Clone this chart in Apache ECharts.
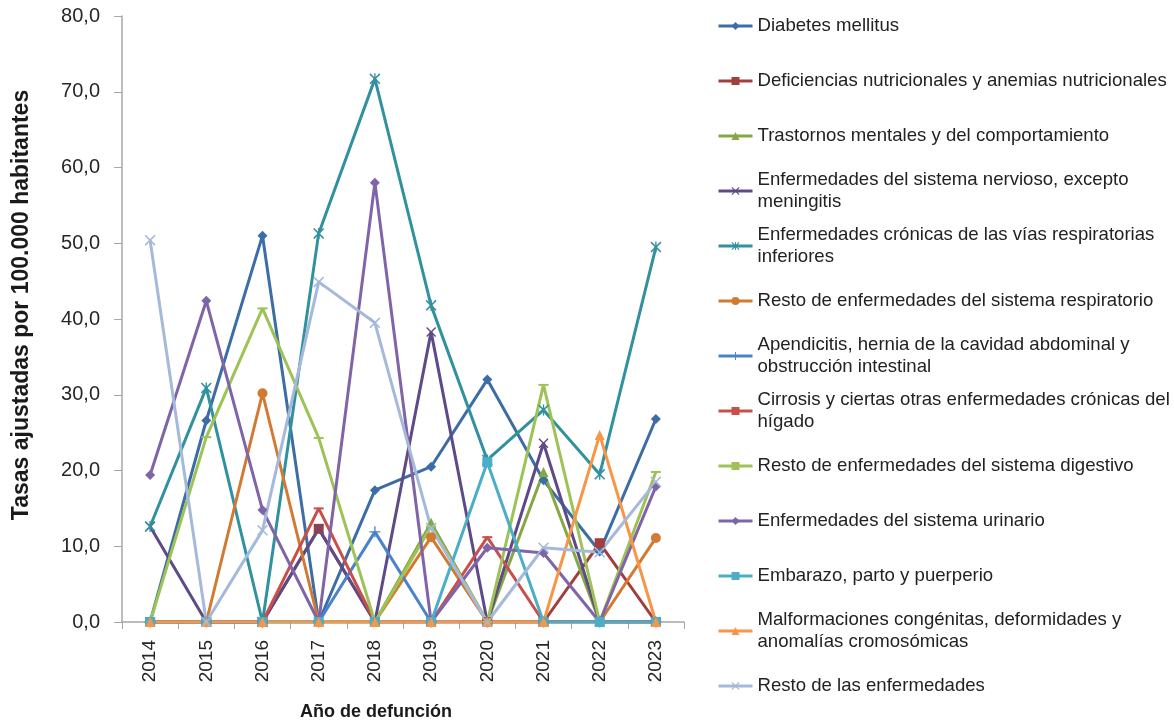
<!DOCTYPE html>
<html>
<head>
<meta charset="utf-8">
<script src="https://cdn.jsdelivr.net/npm/echarts@6/dist/echarts.min.js"></script>
<style>html,body{margin:0;padding:0;background:#fff}#c{width:1174px;height:723px}</style>
</head>
<body>
<div id="c"></div>
<script>
var years = ['2014','2015','2016','2017','2018','2019','2020','2021','2022','2023'];
var yTicks = [0,10,20,30,40,50,60,70,80];

var diabetes       = [0, 26.6, 51.0, 0, 17.4, 20.5, 32.0, 18.7, 9.3, 26.8];
var deficiencias   = [0, 0, 0, 12.3, 0, 0, 0, 0, 10.4, 0];
var trastornos     = [0, 0, 0, 0, 0, 13.1, 0, 19.8, 0, 0];
var nervioso       = [12.6, 0, 0, 12.3, 0, 38.3, 0, 23.6, 0, 0];
var cronicas       = [12.6, 30.9, 0, 51.3, 71.7, 41.8, 21.4, 28.0, 19.5, 49.5];
var respiratorio   = [0, 0, 30.2, 0, 0, 11.2, 0, 0, 0, 11.1];
var apendicitis    = [0, 0, 0, 0, 11.9, 0, 0, 0, 0, 0];
var cirrosis       = [0, 0, 0, 15.0, 0, 0, 11.2, 0, 0, 0];
var digestivo      = [0, 24.4, 41.4, 24.3, 0, 12.6, 0, 31.3, 0, 19.8];
var urinario       = [19.4, 42.4, 14.8, 0, 58.0, 0, 9.8, 9.1, 0, 17.9];
var embarazo       = [0, 0, 0, 0, 0, 0, 21.1, 0, 0, 0];
var malformaciones = [0, 0, 0, 0, 0, 0, 0, 0, 24.7, 0];
var resto          = [50.4, 0, 12.1, 44.9, 39.5, 12.4, 0, 9.8, 9.2, 18.5];

var names = [
  'Diabetes mellitus',
  'Deficiencias nutricionales y anemias nutricionales',
  'Trastornos mentales y del comportamiento',
  'Enfermedades del sistema nervioso, excepto meningitis',
  'Enfermedades crónicas de las vías respiratorias inferiores',
  'Resto de enfermedades del sistema respiratorio',
  'Apendicitis, hernia de la cavidad abdominal y obstrucción intestinal',
  'Cirrosis y ciertas otras enfermedades crónicas del hígado',
  'Resto de enfermedades del sistema digestivo',
  'Enfermedades del sistema urinario',
  'Embarazo, parto y puerperio',
  'Malformaciones congénitas, deformidades y anomalías cromosómicas',
  'Resto de las enfermedades'
];
var legendLabels = [
  'Diabetes mellitus',
  'Deficiencias nutricionales y anemias nutricionales',
  'Trastornos mentales y del comportamiento',
  'Enfermedades del sistema nervioso, excepto\nmeningitis',
  'Enfermedades crónicas de las vías respiratorias\ninferiores',
  'Resto de enfermedades del sistema respiratorio',
  'Apendicitis, hernia de la cavidad abdominal y\nobstrucción intestinal',
  'Cirrosis y ciertas otras enfermedades crónicas del\nhígado',
  'Resto de enfermedades del sistema digestivo',
  'Enfermedades del sistema urinario',
  'Embarazo, parto y puerperio',
  'Malformaciones congénitas, deformidades y\nanomalías cromosómicas',
  'Resto de las enfermedades'
];
var values = [diabetes, deficiencias, trastornos, nervioso, cronicas, respiratorio,
  apendicitis, cirrosis, digestivo, urinario, embarazo, malformaciones, resto];
var colors = ['#3D6DA6','#A23E3B','#86A844','#5F4A88','#31919F','#D27A31',
  '#4A82CB','#C8504B','#9DC356','#8064A8','#4BADC6','#F79646','#A5B9DA'];

var X = 'path://M0,1L1,0L5,4L9,0L10,1L6,5L10,9L9,10L5,6L1,10L0,9L4,5Z';
var AST = 'path://M0,1L1,0L5,4L9,0L10,1L6,5L10,9L9,10L5,6L1,10L0,9L4,5ZM4.4,0H5.6V10H4.4Z';
var PLUS = 'path://M4.4,0H5.6V4.4H10V5.6H5.6V10H4.4V5.6H0V4.4H4.4Z';
var symbols = ['diamond','rect','triangle',X,AST,'circle',PLUS,'rect','rect','diamond','rect','triangle',X];
var sizes = [10,10,10,10,11,10,11,[10,2],[10,2],10,10,10,11];

var series = names.map(function (n, i) {
  return {
    name: n, type: 'line', data: values[i],
    symbol: symbols[i], symbolSize: sizes[i], showAllSymbol: true,
    lineStyle: {width: 3, color: colors[i]},
    itemStyle: {color: colors[i]},
    emphasis: {disabled: true}
  };
});

var font = 'Liberation Sans, Arial, sans-serif';
var legends = names.map(function (n, i) {
  var two = legendLabels[i].indexOf('\n') >= 0;
  var c = 26 + 55 * i;
  return {
    orient: 'vertical', left: 717, top: two ? c - 33 : c - 11,
    padding: 0, itemGap: 0, itemWidth: 34, itemHeight: 10,
    selectedMode: false,
    lineStyle: {width: 3},
    data: [{name: n, textStyle: two ? {padding: [22, 0, 0, 0]} : {}}],
    formatter: function (nm) { return legendLabels[names.indexOf(nm)]; },
    textStyle: {fontFamily: font, fontSize: 18.6, color: '#222', lineHeight: 22}
  };
});

var chart = echarts.init(document.getElementById('c'), null, {renderer: 'canvas'});
chart.setOption({
  animation: false,
  backgroundColor: '#fff',
  color: colors,
  grid: {left: 122, top: 16, width: 562, height: 606, containLabel: false, outerBoundsMode: 'none'},
  legend: legends,
  xAxis: {
    type: 'category', data: years, boundaryGap: true,
    name: 'Año de defunción', nameLocation: 'middle', nameGap: 81,
    nameTextStyle: {fontFamily: font, fontSize: 18, fontWeight: 'bold', color: '#1a1a1a', padding: [0, 54, 0, 0]},
    axisLine: {show: true, lineStyle: {color: '#A6A6A6', width: 1.5}},
    axisTick: {show: true, length: 7, alignWithLabel: false, lineStyle: {color: '#A6A6A6'}},
    axisLabel: {rotate: 90, margin: 18, fontFamily: font, fontSize: 19, color: '#262626'},
    splitLine: {show: false}
  },
  yAxis: {
    type: 'value', min: 0, max: 80, interval: 10,
    name: 'Tasas ajustadas por 100.000 habitantes', nameLocation: 'middle', nameGap: 89,
    nameTextStyle: {fontFamily: font, fontSize: 23, fontWeight: 'bold', color: '#1a1a1a', padding: [0, 0, 0, 28]},
    axisLine: {show: true, lineStyle: {color: '#A6A6A6', width: 1.5}},
    axisTick: {show: true, length: 8, lineStyle: {color: '#A6A6A6'}},
    axisLabel: {margin: 22, fontFamily: font, fontSize: 20, color: '#262626',
      formatter: function (v) { return yTicks.indexOf(v) >= 0 ? v.toFixed(1).replace('.', ',') : ''; }},
    splitLine: {show: false}
  },
  series: series
});
</script>
</body>
</html>
